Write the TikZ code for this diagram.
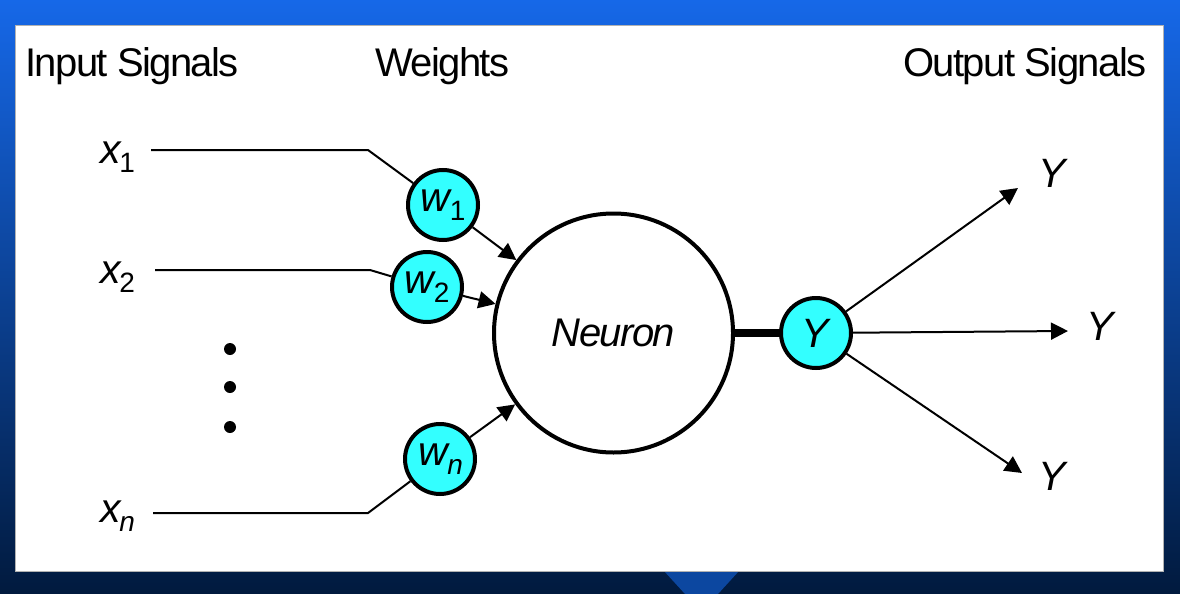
\documentclass[tikz,border=0pt]{standalone}
\usepackage{fontspec}
\setmainfont{Liberation Sans}[LetterSpace=-4]
\usetikzlibrary{arrows.meta}
\definecolor{cyanfill}{RGB}{51,255,255}
\definecolor{bgtop}{RGB}{22,104,232}
\definecolor{bgmid}{RGB}{10,72,170}
\definecolor{bgbot}{RGB}{1,26,62}
\definecolor{chev}{RGB}{12,71,160}
\newcommand\lbl[2]{\textit{#1}\kern-1pt\raisebox{-9pt}{\fontsize{28}{28}\selectfont #2}}
\tikzset{
  head/.style={font=\fontsize{40}{40}\selectfont, anchor=base west, inner sep=0},
  big/.style={font=\fontsize{41}{41}\selectfont, inner sep=0},
  wcirc/.style={circle, draw, line width=4pt, fill=cyanfill, minimum size=70pt, inner sep=0, font=\fontsize{41}{41}\selectfont},
  wire/.style={line width=2pt},
  arr/.style={line width=2pt, -{Triangle[length=17pt,width=17pt]}},
}
\begin{document}
\begin{tikzpicture}[x=1pt,y=-1pt]
\useasboundingbox (0,0) rectangle (1180,594);
\shade[top color=bgtop, middle color=bgmid, bottom color=bgbot] (0,0) rectangle (1180,594);
\fill[chev] (664,571) -- (739,571) -- (718,594) -- (685,594) -- cycle;
\filldraw[fill=white, draw=gray!60, line width=0.8pt] (15,25) rectangle (1163,571);

% headings
\node[head] (hin) at (25,77) {Input Signals};
\node[head] (hw) at (375,77) {Weights};
\node[head] (hout) at (903,77) {Output Signals};

% neuron and output
\node[circle, draw, line width=4pt, fill=white, minimum size=239pt, inner sep=0,
      font=\fontsize{40}{40}\selectfont\itshape] (neuron) at (613.5,333) {Neuron};
\node[wcirc] (Y) at (816,333) {\textit{Y}};
\draw[line width=8pt] (neuron.east) -- (Y.west);

% weights
\node[wcirc] (w1) at (443,205) {\lbl{w}{1}};
\node[wcirc] (w2) at (427,287) {\lbl{w}{2}};
\node[wcirc] (wn) at (440,459) {\lbl{w}{\textit{n}}};

% inputs
\node[big, anchor=base west] (x1) at (100,163) {\lbl{x}{1}};
\node[big, anchor=base west] (x2) at (100,283) {\lbl{x}{2}};
\node[big, anchor=base west] (xn) at (100,522) {\lbl{x}{\textit{n}}};

\coordinate (x1s) at (151,150); \coordinate (x1k) at (368,150);
\coordinate (x2s) at (155,270); \coordinate (x2k) at (370,270);
\coordinate (xns) at (153,513); \coordinate (xnk) at (368,513);
\draw[wire] (x1s) -- (x1k) -- (w1);
\draw[wire] (x2s) -- (x2k) -- (w2);
\draw[wire] (xns) -- (xnk) -- (wn);

\draw[arr] (w1) -- (neuron);
\draw[arr] (w2) -- (neuron);
\draw[arr] (wn) -- (neuron);

% dots
\fill (230,349) circle (6pt);
\fill (230,387) circle (6pt);
\fill (230,427) circle (6pt);

% outputs
\coordinate (t1) at (1018,188);
\coordinate (t2) at (1068,331);
\coordinate (t3) at (1022,473);
\draw[arr] (Y) -- (t1);
\draw[arr] (Y) -- (t2);
\draw[arr] (Y) -- (t3);
\node[big, anchor=base west] (y1) at (1038,187) {\textit{Y}};
\node[big, anchor=base west] (y2) at (1086,340) {\textit{Y}};
\node[big, anchor=base west] (y3) at (1038,490) {\textit{Y}};
\end{tikzpicture}
\end{document}
